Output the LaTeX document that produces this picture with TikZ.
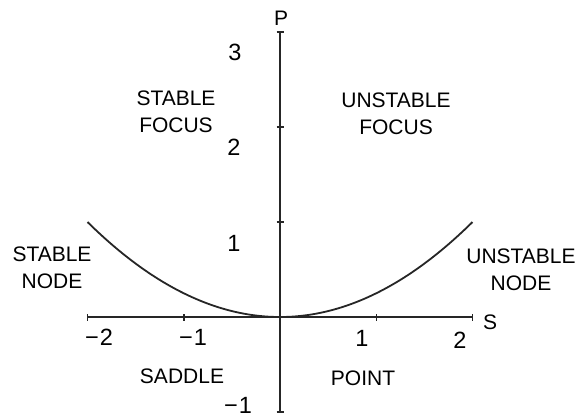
\documentclass[tikz,border=0pt]{standalone}
\usepackage{fontspec}
\setmainfont{Liberation Sans}
\begin{document}
\begin{tikzpicture}[x=1bp,y=-1bp,
  lab/.style={font=\fontsize{21bp}{27bp}\selectfont, inner sep=0pt, align=center},
  num/.style={font=\fontsize{23.5bp}{27bp}\selectfont, inner sep=0pt},
  axisline/.style={line width=1.8bp, black!85},
  tickline/.style={line width=1.5bp, black!85},
  curveline/.style={line width=1.8bp, black!85}]
\useasboundingbox (0,0) rectangle (577,418);
\begin{scope}[shift={(280,317)}, x=96.25bp, y=95bp]
  \coordinate (sL) at (-2,0);
  \coordinate (sR) at (2,0);
  \coordinate (pB) at (0,-1);
  \coordinate (pT) at (0,3);
  \draw[axisline] (sL) -- (sR);
  \draw[axisline] (pB) -- (pT);
  \foreach \s in {-2,-1,1,2}
    \draw[tickline] (\s,0) ++(0bp,-3.5bp) -- ++(0bp,7bp);
  \foreach \p in {-1,1,2,3}
    \draw[tickline] (0,\p) ++(-3.5bp,0bp) -- ++(7bp,0bp);
  \draw[curveline] plot[domain=-2:2, samples=101, smooth] (\x, {\x*\x/4});
\end{scope}
% axis names
\node[lab] (P) at (281,18) {P};
\node[lab] (S) at (490,322) {S};
% P numbers
\node[num] (p3) at (235,52) {3};
\node[num] (p2) at (234,147) {2};
\node[num] (p1) at (234,243) {1};
\node[num] (pm1) at (238,405) {−\kern1bp1};
% S numbers
\node[num] (sm2) at (99,337) {−\kern1bp2};
\node[num] (sm1) at (193,337) {−\kern1bp1};
\node[num] (s1) at (362,338) {1};
\node[num] (s2) at (460,340) {2};
% regions
\node[lab] (sf) at (176,112) {STABLE\\FOCUS};
\node[lab] (uf) at (396,114) {UNSTABLE\\FOCUS};
\node[lab] (sn) at (52,268) {STABLE\\NODE};
\node[lab] (un) at (521,270) {UNSTABLE\\NODE};
\node[lab] (sd) at (182,376) {SADDLE};
\node[lab] (pt) at (363,378) {POINT};
\end{tikzpicture}
\end{document}
